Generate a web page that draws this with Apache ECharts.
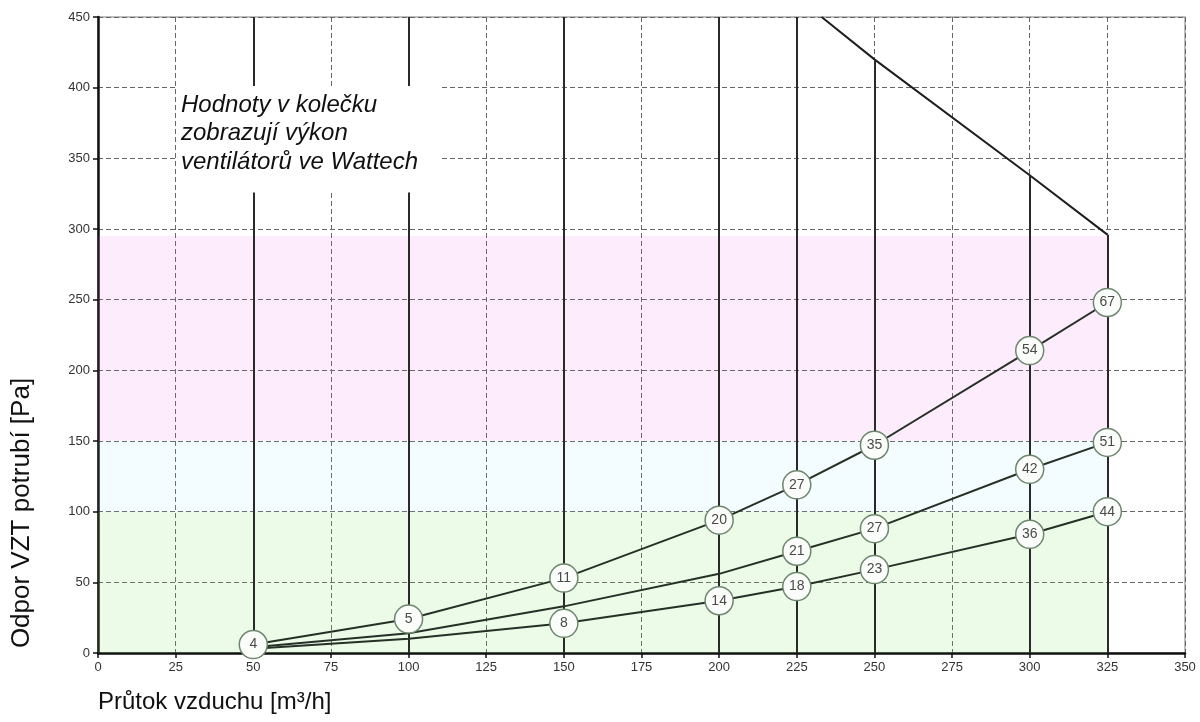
<!DOCTYPE html>
<html>
<head>
<meta charset="utf-8">
<script src="https://cdn.jsdelivr.net/npm/echarts@6/dist/echarts.min.js"></script>
<style>html,body{margin:0;padding:0;background:#fff}#c{width:1200px;height:722px}</style>
</head>
<body>
<div id="c"></div>
<script>
// ---- data ----
const xVals = [50, 100, 150, 200, 225, 250, 300, 325];
const highY = [6, 24, 53, 94, 119, 147, 214, 248];
const highW = [4, 5, 11, 20, 27, 35, 54, 67];
const midY  = [4, 14, 33, 56, 72, 88, 130, 149];
const midW  = [null, null, null, null, 21, 27, 42, 51];
const lowY  = [3, 10, 21, 37, 47, 59, 84, 100];
const lowW  = [null, null, 8, 14, 18, 23, 36, 44];
const fanX   = [50, 100, 150, 200, 225, 250, 300, 325];
const fanTop = [450, 450, 450, 450, 450, 420, 338, 296];
const boundX = [233, 250, 300, 325];
const boundY = [450, 420, 338, 296];
const bandLo = [0, 100, 150];
const bandHi = [100, 150, 295];
const bandXEnd = 325;
const bandColors = ['rgba(120,230,100,0.15)', 'rgba(140,230,255,0.10)', 'rgba(230,100,230,0.12)'];
const noteText = 'Hodnoty v kolečku\nzobrazují výkon\nventilátorů ve Wattech';
const xName = 'Průtok vzduchu [m³/h]';
const yName = 'Odpor VZT potrubí [Pa]';

const FONT = 'Liberation Sans, Arial, sans-serif';

function curve(ys, ws) {
  return {
    type: 'line',
    z: 5,
    lineStyle: { color: '#263026', width: 2 },
    itemStyle: { color: '#fbfdfb', borderColor: '#6d876d', borderWidth: 1.5 },
    symbolSize: 28,
    data: xVals.map((x, i) => ({
      value: [x, ys[i]],
      symbol: ws[i] != null ? 'circle' : 'none',
      label: {
        show: ws[i] != null,
        position: 'inside',
        formatter: String(ws[i]),
        color: '#4a4a4a',
        fontSize: 14,
        fontFamily: FONT
      }
    })),
    animation: false
  };
}

const chart = echarts.init(document.getElementById('c'));
const axisCommon = {
  type: 'value',
  axisLine: { show: true, onZero: false, lineStyle: { color: '#111', width: 2.5 } },
  axisTick: { show: true, length: 5, lineStyle: { color: '#111', width: 1.5 } },
  axisLabel: { color: '#333', fontSize: 13, fontFamily: FONT, margin: 8 },
  splitLine: { show: true, lineStyle: { type: [5, 3], color: '#666', width: 1 } }
};
chart.setOption({
  animation: false,
  backgroundColor: '#fff',
  grid: { left: 98, right: 15, top: 17, bottom: 69, show: true, borderColor: '#a8a8a8', borderWidth: 1.5, backgroundColor: '#fff' },
  title: {
    text: noteText,
    left: 176, top: 86,
    padding: [5, 22, 16, 5],
    backgroundColor: '#fff',
    textStyle: { fontStyle: 'italic', fontWeight: 'normal', fontSize: 24, lineHeight: 28.5, color: '#111', fontFamily: FONT }
  },
  xAxis: Object.assign({}, axisCommon, { min: 0, max: 350, interval: 25 }),
  yAxis: Object.assign({}, axisCommon, { min: 0, max: 450, interval: 50 }),
  graphic: [
    { type: 'text', left: 98, top: 690, style: { text: xName, fontSize: 24, fontFamily: FONT, fill: '#111' } },
    { type: 'text', x: 22, y: 513, rotation: Math.PI / 2,
      style: { text: yName, fontSize: 26, fontFamily: FONT, fill: '#111', align: 'center', verticalAlign: 'middle' } }
  ],
  series: [
    {
      type: 'line', z: 1, data: [], silent: true,
      markArea: {
        silent: true,
        data: bandLo.map((lo, i) => [
          { coord: [0, lo], itemStyle: { color: bandColors[i] } },
          { coord: [bandXEnd, bandHi[i]] }
        ])
      }
    },
    {
      type: 'line', z: 3, data: [], silent: true,
      markLine: {
        silent: true, symbol: 'none', label: { show: false },
        lineStyle: { type: 'solid', color: '#2a2a2a', width: 2 },
        data: fanX.map((x, i) => [{ coord: [x, 0] }, { coord: [x, fanTop[i]] }])
      }
    },
    {
      type: 'line', z: 4, symbol: 'none', silent: true,
      lineStyle: { color: '#1e1e1e', width: 2 },
      data: boundX.map((x, i) => [x, boundY[i]])
    },
    curve(lowY, lowW),
    curve(midY, midW),
    curve(highY, highW)
  ]
});
</script>
</body>
</html>
